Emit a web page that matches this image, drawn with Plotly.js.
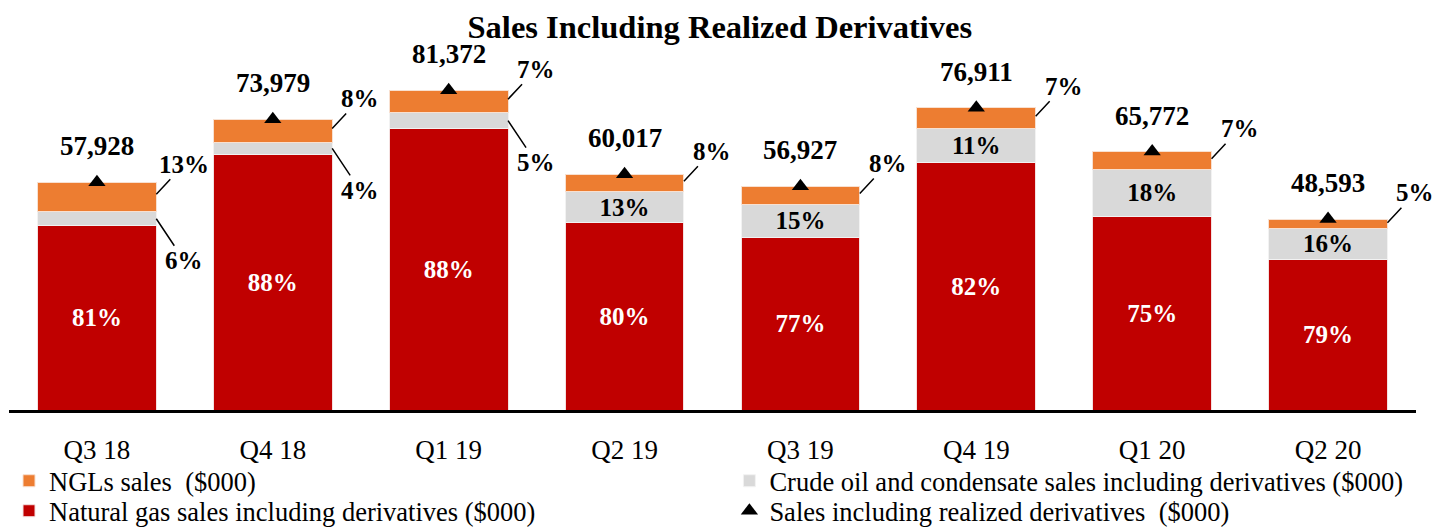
<!DOCTYPE html>
<html>
<head>
<meta charset="utf-8">
<script src="https://cdn.plot.ly/plotly-3.0.1.min.js"></script>
<style>html,body{margin:0;padding:0;background:#fff;}#chart{width:1434px;height:529px;}</style>
</head>
<body>
<div id="chart"></div>
<script>
// ---- Data ($000) ----
const quarters = ["Q3 18", "Q4 18", "Q1 19", "Q2 19", "Q3 19", "Q4 19", "Q1 20", "Q2 20"];
const totalSales = [57928, 73979, 81372, 60017, 56927, 76911, 65772, 48593];
const gasSales   = [46922, 65102, 71607, 47714, 43834, 63067, 49329, 38388];
const crudeSales = [3476, 2959, 4069, 7802, 8539, 8460, 11839, 7775];
const nglSales   = [7530, 5918, 5696, 4501, 4554, 5384, 4604, 2430];
const gasPct   = ["81%", "88%", "88%", "80%", "77%", "82%", "75%", "79%"];
const crudePct = ["6%", "4%", "5%", "13%", "15%", "11%", "18%", "16%"];
const nglPct   = ["13%", "8%", "7%", "8%", "8%", "7%", "7%", "5%"];
const crudeInside = [false, false, false, true, true, true, true, true];

const FONT = "Liberation Serif, Times New Roman, serif";
const idx = quarters.map((q, i) => i);
const BW = 0.675;

const traces = [
  {
    type: "bar", name: "Natural gas sales including derivatives ($000)",
    x: idx, y: gasSales, width: BW,
    marker: {color: "#C00000", line: {color: "#f4e0e0", width: 1}},
    text: gasPct, textposition: "inside", insidetextanchor: "middle",
    constraintext: "none", textangle: 0,
    textfont: {family: FONT, size: 25, color: "#ffffff", weight: "bold"},
    hoverinfo: "skip", legend: "legend3"
  },
  {
    type: "bar", name: "Crude oil and condensate sales including derivatives ($000)",
    x: idx, y: crudeSales, width: BW,
    marker: {color: "#D9D9D9", line: {color: "#f2f2f2", width: 1}},
    text: crudePct.map((t, i) => crudeInside[i] ? t : ""), textposition: "inside",
    insidetextanchor: "middle", constraintext: "none", textangle: 0,
    textfont: {family: FONT, size: 25, color: "#000000", weight: "bold"},
    hoverinfo: "skip", legend: "legend2"
  },
  {
    type: "bar", name: "NGLs sales&nbsp; ($000)",
    x: idx, y: nglSales, width: BW,
    marker: {color: "#ED7D31", line: {color: "#f8e0d0", width: 1}},
    hoverinfo: "skip", legend: "legend"
  },
  {
    type: "scatter", mode: "markers", name: "Sales including realized derivatives&nbsp; ($000)",
    x: idx, y: totalSales,
    marker: {symbol: "triangle-up", size: 15, color: "#000000"},
    hoverinfo: "skip", legend: "legend4", cliponaxis: false
  }
];

const annotations = [];
idx.forEach(i => {
  // total label
  annotations.push({
    x: i, y: totalSales[i], xref: "x", yref: "y", yshift: 36,
    text: totalSales[i].toLocaleString("en-US"), showarrow: false,
    font: {family: FONT, size: 27, color: "#000", weight: "bold"}
  });
  // NGL outside label with leader line
  annotations.push({
    x: i + BW / 2, y: totalSales[i] - 0.4 * nglSales[i], xref: "x", yref: "y",
    text: nglPct[i], showarrow: true, arrowhead: 0, arrowwidth: 1.5, arrowcolor: "#000",
    ax: 28, ay: -30, standoff: 0, startstandoff: 0,
    font: {family: FONT, size: 25, color: "#000", weight: "bold"}
  });
  if (!crudeInside[i]) {
    annotations.push({
      x: i + BW / 2, y: gasSales[i] + crudeSales[i] / 2, xref: "x", yref: "y",
      text: crudePct[i], showarrow: true, arrowhead: 0, arrowwidth: 1.5, arrowcolor: "#000",
      ax: 28, ay: 42, standoff: 0, startstandoff: 0,
      font: {family: FONT, size: 25, color: "#000", weight: "bold"}
    });
  }
});

const legBase = {orientation: "v", bgcolor: "rgba(0,0,0,0)", borderwidth: 0,
  font: {family: FONT, size: 26.5, color: "#000"}, xref: "paper", yref: "container",
  xanchor: "left", yanchor: "middle"};

const layout = {
  width: 1434, height: 529,
  margin: {l: 9, r: 18, t: 40, b: 119},
  paper_bgcolor: "#fff", plot_bgcolor: "#fff",
  barmode: "stack",
  title: {text: "<b>Sales Including Realized Derivatives</b>", x: 0.502, xref: "container",
          y: 0.95, yref: "container", yanchor: "middle",
          font: {family: FONT, size: 32.5, color: "#000"}},
  xaxis: {range: [-0.5, 7.5], tickvals: idx, ticktext: quarters,
          showline: true, linecolor: "#000", linewidth: 2.5,
          ticks: "outside", ticklen: 14, tickcolor: "rgba(0,0,0,0)",
          showgrid: false, zeroline: false, fixedrange: true,
          tickfont: {family: FONT, size: 27, color: "#000"}},
  yaxis: {range: [0, 94150], visible: false, showgrid: false, zeroline: false, fixedrange: true},
  showlegend: true,
  legend:  Object.assign({}, legBase, {x: 0.0, y: 1 - 481 / 529}),
  legend2: Object.assign({}, legBase, {x: 0.512, y: 1 - 481 / 529}),
  legend3: Object.assign({}, legBase, {x: 0.0, y: 1 - 511 / 529}),
  legend4: Object.assign({}, legBase, {x: 0.512, y: 1 - 511 / 529}),
  annotations: annotations
};

Plotly.newPlot("chart", traces, layout, {displayModeBar: false, staticPlot: true});
</script>
</body>
</html>
